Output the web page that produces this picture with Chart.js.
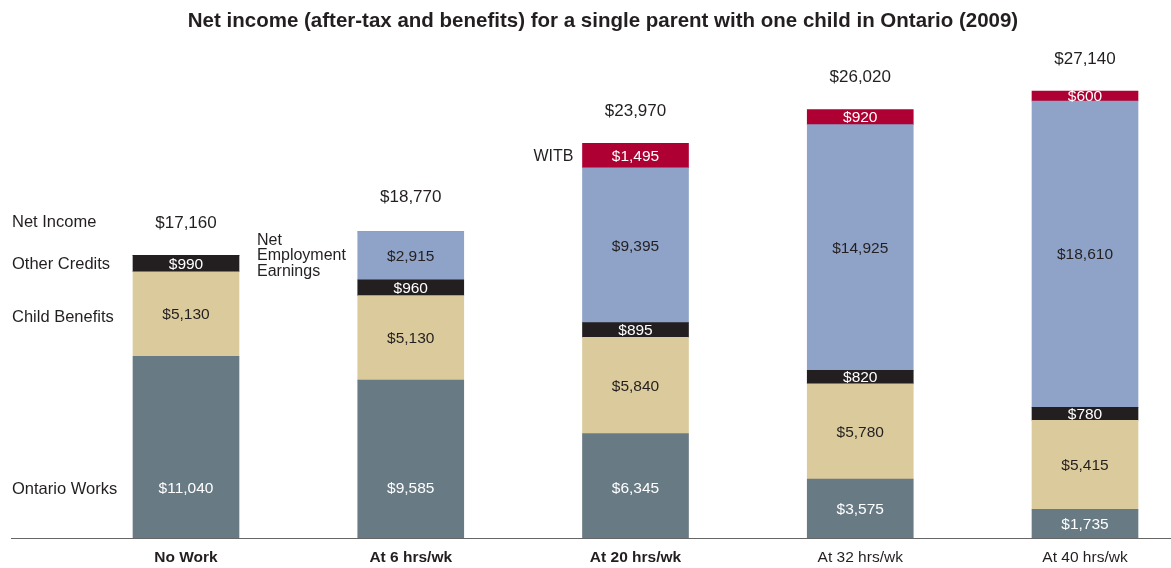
<!DOCTYPE html>
<html>
<head>
<meta charset="utf-8">
<script src="https://cdn.jsdelivr.net/npm/chart.js@4.4.1/dist/chart.umd.min.js"></script>
<style>
  html, body { margin: 0; padding: 0; background: #fff; }
</style>
</head>
<body>
<canvas id="incomeChart" width="1171" height="568"></canvas>
<script>
const categories = ['No Work', 'At 6 hrs/wk', 'At 20 hrs/wk', 'At 32 hrs/wk', 'At 40 hrs/wk'];
const ontarioWorks = [11040, 9585, 6345, 3575, 1735];
const childBenefits = [5130, 5130, 5840, 5780, 5415];
const otherCredits = [990, 960, 895, 820, 780];
const employmentEarnings = [0, 2915, 9395, 14925, 18610];
const witb = [0, 0, 1495, 920, 600];
const netIncome = [17160, 18770, 23970, 26020, 27140];

const FONT = '"Liberation Sans", Arial, Helvetica, sans-serif';
const TEXT = '#231f20';

const money = v => '$' + v.toLocaleString('en-US');

function series(label, data, color, textColor) {
    return {
        label: label,
        data: data,
        backgroundColor: color,
        textColor: textColor,
        borderWidth: 0,
        barThickness: 106,
        clip: false,
    };
}

// labels inside the segments, totals above, row labels on the left
const annotate = {
    id: 'annotate',
    afterDatasetsDraw(chart) {
        const ctx = chart.ctx;
        const y = chart.scales.y;
        const base = y.getPixelForValue(0);
        ctx.save();

        // baseline
        ctx.strokeStyle = '#666';
        ctx.lineWidth = 1;
        ctx.beginPath();
        ctx.moveTo(11, Math.round(base) + 0.5);
        ctx.lineTo(1171, Math.round(base) + 0.5);
        ctx.stroke();

        ctx.textAlign = 'center';
        ctx.textBaseline = 'middle';
        ctx.font = '15.5px ' + FONT;
        chart.data.datasets.forEach((ds, di) => {
            const meta = chart.getDatasetMeta(di);
            meta.data.forEach((bar, i) => {
                const v = ds.data[i];
                if (!v) return;
                let cy = (bar.y + bar.base) / 2;
                if (di === 0) cy = Math.max(cy, base - 50);
                ctx.fillStyle = ds.textColor;
                ctx.fillText(money(v), bar.x, cy + 1);
            });
        });

        // totals
        ctx.font = '17px ' + FONT;
        ctx.fillStyle = TEXT;
        const first = chart.getDatasetMeta(0).data;
        netIncome.forEach((v, i) => {
            ctx.fillText(money(v), first[i].x, y.getPixelForValue(v) - 32);
        });

        // row labels
        const segY = (di, i) => {
            const b = chart.getDatasetMeta(di).data[i];
            return (b.y + b.base) / 2;
        };
        ctx.font = '16.5px ' + FONT;
        ctx.textAlign = 'left';
        ctx.fillText('Net Income', 12, y.getPixelForValue(netIncome[0]) - 33);
        ctx.fillText('Other Credits', 12, segY(2, 0) + 1);
        ctx.fillText('Child Benefits', 12, segY(1, 0) + 3);
        ctx.fillText('Ontario Works', 12, base - 49);

        ctx.font = '16px ' + FONT;
        const eY = segY(3, 1);
        ['Net', 'Employment', 'Earnings'].forEach((t, k) => {
            ctx.fillText(t, 257, eY + (k - 1) * 15.5);
        });

        ctx.textAlign = 'right';
        const w = chart.getDatasetMeta(4).data[2];
        ctx.fillText('WITB', w.x - 62, segY(4, 2) + 1);

        // title
        ctx.textAlign = 'center';
        ctx.font = 'bold 20.5px ' + FONT;
        ctx.fillText('Net income (after-tax and benefits) for a single parent with one child in Ontario (2009)', 603, 21);
        ctx.restore();
    },
};

new Chart(document.getElementById('incomeChart'), {
    type: 'bar',
    data: {
        labels: categories,
        datasets: [
            series('Ontario Works', ontarioWorks, '#687a84', '#ffffff'),
            series('Child Benefits', childBenefits, '#dbca9b', TEXT),
            series('Other Credits', otherCredits, '#231f20', '#ffffff'),
            series('Net Employment Earnings', employmentEarnings, '#8fa3c8', TEXT),
            series('WITB', witb, '#ae0032', '#ffffff'),
        ],
    },
    options: {
        responsive: false,
        animation: false,
        devicePixelRatio: 1,
        layout: {
            padding: { left: 186, right: 86, top: 44, bottom: 0 },
        },
        plugins: {
            legend: { display: false },
            tooltip: { enabled: false },
        },
        scales: {
            x: {
                stacked: true,
                offset: false,
                grid: { display: false, drawTicks: false },
                border: { display: false },
                afterFit: function (scale) {
                    scale.height = 30;
                },
                ticks: {
                    padding: 10,
                    color: TEXT,
                    maxRotation: 0,
                    minRotation: 0,
                    font: function (c) {
                        return { family: FONT, size: 15.5, weight: c.index < 3 ? 'bold' : 'normal' };
                    },
                },
            },
            y: {
                stacked: true,
                display: false,
                min: 0,
                max: 30000,
            },
        },
    },
    plugins: [annotate],
});
</script>
</body>
</html>
